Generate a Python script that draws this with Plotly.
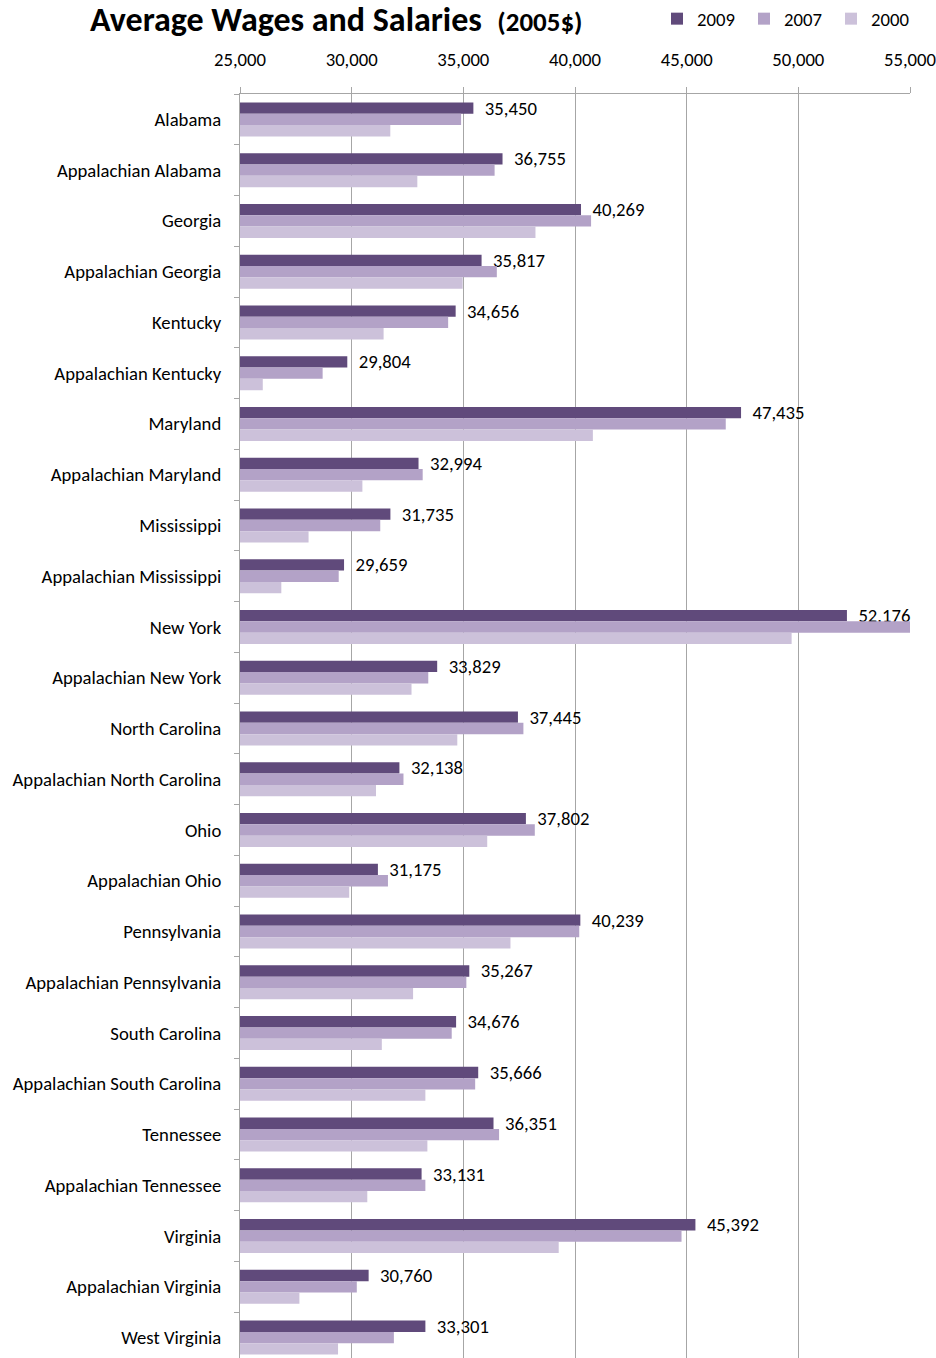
import plotly.graph_objects as go

categories = ["Alabama", "Appalachian Alabama", "Georgia", "Appalachian Georgia", "Kentucky",
              "Appalachian Kentucky", "Maryland", "Appalachian Maryland", "Mississippi",
              "Appalachian Mississippi", "New York", "Appalachian New York", "North Carolina",
              "Appalachian North Carolina", "Ohio", "Appalachian Ohio", "Pennsylvania",
              "Appalachian Pennsylvania", "South Carolina", "Appalachian South Carolina",
              "Tennessee", "Appalachian Tennessee", "Virginia", "Appalachian Virginia", "West Virginia"]

wages_2009 = [35450, 36755, 40269, 35817, 34656, 29804, 47435, 32994, 31735, 29659, 52176, 33829,
              37445, 32138, 37802, 31175, 40239, 35267, 34676, 35666, 36351, 33131, 45392, 30760, 33301]
wages_2007 = [34900, 36400, 40720, 36500, 34320, 28700, 46750, 33180, 31280, 29420, 55100, 33430,
              37690, 32320, 38200, 31625, 40190, 35135, 34480, 35530, 36600, 33300, 44770, 30230, 31890]
wages_2000 = [31730, 32940, 38230, 34970, 31430, 26020, 40800, 30480, 28070, 26850, 49700, 32680,
              34730, 31090, 36070, 29890, 37110, 32750, 31350, 33300, 33390, 30700, 39270, 27660, 29390]

series_names = ["2009", "2007", "2000"]
colors = ["#604a7b", "#b3a2c7", "#ccc1da"]

FONT = "Carlito, Lato, sans-serif"
FS = 18.7
H = 1363

fig = go.Figure()
for name, vals, col in zip(series_names, [wages_2009, wages_2007, wages_2000], colors):
    show_text = name == "2009"
    fig.add_trace(go.Bar(
        y=categories, x=vals, name=name, orientation="h",
        marker=dict(color=col, line=dict(width=0)),
        base=0,
        text=["\u00a0\u00a0" + f"{v:,}" for v in vals] if show_text else None,
        textposition="outside" if show_text else "none",
        constraintext="none",
        textfont=dict(size=FS, color="#000000", family=FONT),
        cliponaxis=not show_text,
        hoverinfo="x+y+name",
    ))

fig.update_layout(
    width=936, height=H,
    margin=dict(l=240, r=26, t=94, b=0),
    paper_bgcolor="white", plot_bgcolor="white",
    barmode="group", bargap=0.33, bargroupgap=0,
    font=dict(family=FONT, size=FS, color="#000000"),
    title=dict(
        text="<b>Average Wages and Salaries</b>  <b><span style='font-size:27px'>(2005$)</span></b>",
        font=dict(size=34, family=FONT, color="#000000"),
        xref="container", x=90 / 936, xanchor="left",
        yref="container", y=1 - 19 / H, yanchor="middle",
    ),
    legend=dict(
        orientation="h", traceorder="normal",
        xref="container", yref="container",
        x=657 / 936, xanchor="left", y=1.0, yanchor="top",
        font=dict(size=FS, family=FONT),
        itemwidth=30, entrywidth=42, entrywidthmode="pixels",
        bgcolor="rgba(0,0,0,0)",
    ),
    xaxis=dict(
        side="top", range=[25000, 55000], dtick=5000, tick0=25000,
        tickformat=",", showgrid=True, gridcolor="#a6a6a6", gridwidth=1,
        ticks="outside", ticklen=6, tickcolor="#a6a6a6",
        showline=True, linecolor="#a6a6a6", linewidth=1,
        zeroline=False, ticklabelstandoff=14, ticklabeloverflow="allow",
        tickfont=dict(size=FS, family=FONT),
        fixedrange=True,
    ),
    yaxis=dict(
        autorange="reversed", type="category",
        showline=True, linecolor="#a6a6a6", linewidth=1,
        ticks="outside", tickson="boundaries", ticklen=5, tickcolor="#a6a6a6",
        showgrid=False, ticklabelstandoff=14,
        tickfont=dict(size=FS, family=FONT),
    ),
)

fig.write_html(
    "out.html",
    config={"displayModeBar": False},
    post_script="document.body.style.margin='0';document.body.style.overflow='hidden';",
)
